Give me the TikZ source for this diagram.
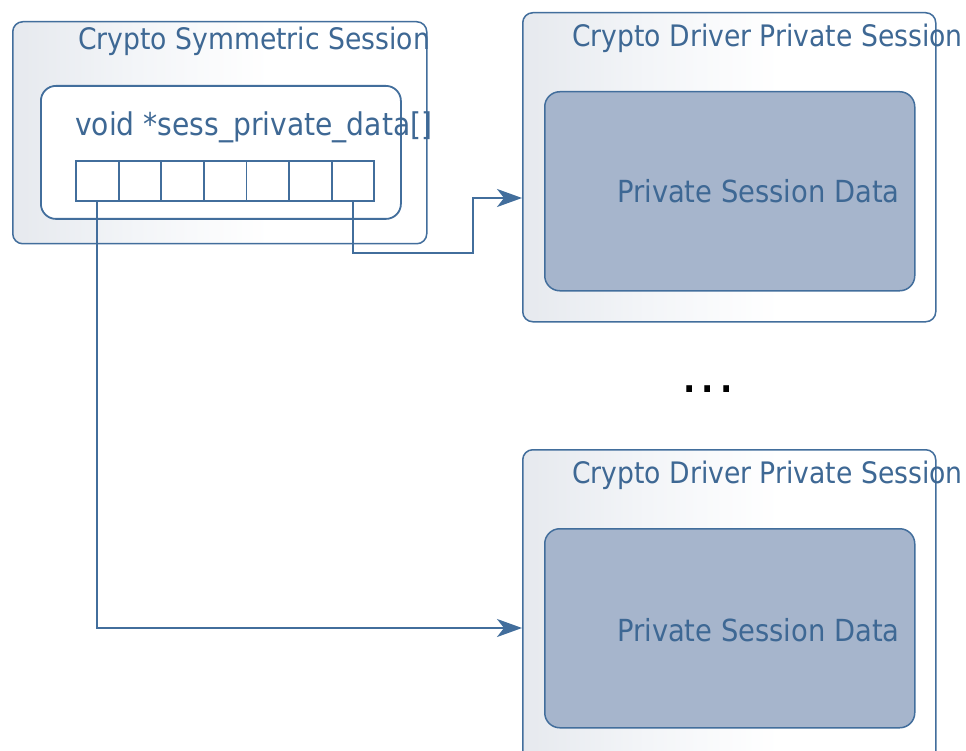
\documentclass[tikz,border=0pt]{standalone}
\usepackage{fontspec}
\setmainfont{DejaVu Sans Condensed}
\usetikzlibrary{arrows.meta}
\definecolor{ln}{RGB}{66,110,156}
\definecolor{tx}{RGB}{62,104,148}
\definecolor{pfill}{RGB}{166,181,204}
\definecolor{gl}{RGB}{230,233,238}
\definecolor{gm}{RGB}{243,245,248}
\pgfdeclarehorizontalshading{sessgrad}{100bp}{color(0bp)=(gl); color(25bp)=(gl); color(40bp)=(gm); color(56bp)=(white); color(100bp)=(white)}
\tikzset{
  outerbox/.style={draw=ln, line width=1.5pt, rounded corners=10pt, shading=sessgrad},
  innerbox/.style={draw=ln, line width=1.8pt, rounded corners=15pt, fill=white},
  privbox/.style={draw=ln, line width=1.5pt, rounded corners=15pt, fill=pfill},
  cell/.style={draw=ln, line width=1.8pt, fill=white, minimum width=42.6pt, minimum height=40pt, inner sep=0pt, outer sep=0pt},
  lbl/.style={text=tx, font=\fontsize{29.6}{34}\selectfont, inner sep=0pt, anchor=base west},
  arr/.style={draw=ln, line width=1.8pt, -{Stealth[length=25pt, width=18pt, inset=7pt]}},
}
\begin{document}
\begin{tikzpicture}[x=1pt, y=-1pt]
\clip (0,0) rectangle (966,751);
\fill[white] (0,0) rectangle (966,751);
% left session
\node[outerbox, anchor=north west, minimum width=414pt, minimum height=222pt, inner sep=0pt] (sym) at (12,21) {};
\node[lbl] (symt) at (78,50) {Crypto Symmetric Session};
\node[innerbox, anchor=north west, minimum width=360pt, minimum height=133pt, inner sep=0pt] (arrbox) at (40,85) {};
\node[lbl, font=\fontsize{31.3}{36}\selectfont] (arrt) at (75,136) {void *sess\_private\_data[]};
\foreach \i in {1,...,7} {
  \node[cell, anchor=north west] (c\i) at ({76+(\i-1)*42.6},161) {};
}
% right session 1
\node[outerbox, anchor=north west, minimum width=413pt, minimum height=309pt, inner sep=0pt] (r1) at (522,12) {};
\node[lbl] (r1t) at (572,47) {Crypto Driver Private Session};
\node[privbox, anchor=north west, minimum width=370pt, minimum height=199pt, inner sep=0pt] (p1) at (544,91) {};
\node[lbl, font=\fontsize{30.4}{35}\selectfont] (p1t) at (617,203) {Private Session Data};
% dots
\node[text=black, font=\bfseries\fontsize{36}{40}\selectfont, inner sep=0pt, anchor=base] (dots) at (708,392) {.\,.\,.};
% right session 2
\node[outerbox, anchor=north west, minimum width=413pt, minimum height=340pt, inner sep=0pt] (r2) at (522,449) {};
\node[lbl] (r2t) at (572,483) {Crypto Driver Private Session};
\node[privbox, anchor=north west, minimum width=370pt, minimum height=199pt, inner sep=0pt] (p2) at (544,528) {};
\node[lbl, font=\fontsize{30.4}{35}\selectfont] (p2t) at (617,641) {Private Session Data};
% connectors
\coordinate (a1) at (r1.west |- 0,198);
\coordinate (a2) at (r2.west |- 0,628);
\draw[arr] (c7.south) -- (c7.south |- 0,253) -- (473,253) -- (473,198) -- (a1);
\draw[arr] (c1.south) -- (c1.south |- a2) -- (a2);
\end{tikzpicture}
\end{document}
